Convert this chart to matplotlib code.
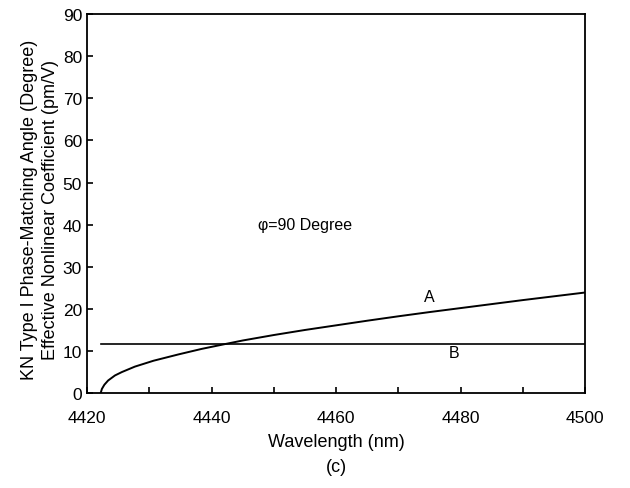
import numpy as np
import matplotlib.pyplot as plt
from matplotlib.ticker import MultipleLocator

plt.rcParams['font.family'] = ['Liberation Sans', 'DejaVu Sans']

# curve A: phase-matching angle (degree)
wl_a = [4422.2, 4422.4, 4422.8, 4423.4, 4424.5, 4425.6, 4427.7, 4430.7, 4434.7, 4438.4,
        4442, 4445, 4450, 4455, 4460, 4465, 4470, 4475, 4480, 4485, 4490, 4495, 4500]
ang_a = [0.0, 1.0, 2.0, 3.0, 4.2, 5.0, 6.3, 7.7, 9.2, 10.5,
         11.6, 12.5, 13.8, 15.0, 16.1, 17.2, 18.25, 19.25, 20.2, 21.15, 22.1, 23.0, 23.9]

# curve B: effective nonlinear coefficient (pm/V)
wl_b = [4422.2, 4500]
deff_b = [11.6, 11.6]

fig = plt.figure(figsize=(6.3, 4.89), dpi=100)
ax = fig.add_axes([0.138, 0.194, 0.791, 0.775])

ax.plot(wl_a, ang_a, color='black', lw=1.4)
ax.plot(wl_b, deff_b, color='black', lw=1.2)

ax.set_xlim(4420, 4500)
ax.set_ylim(0, 90)
ax.xaxis.set_major_locator(MultipleLocator(20))
ax.xaxis.set_minor_locator(MultipleLocator(10))
ax.yaxis.set_major_locator(MultipleLocator(10))
ax.tick_params(which='both', direction='in', labelsize=12.5, color='black')
ax.tick_params(which='major', length=4, width=1.2)
ax.tick_params(which='minor', length=4, width=1.2)
ax.tick_params(axis='x', pad=12)
for s in ax.spines.values():
    s.set_linewidth(1.3)

ax.text(4447.5, 40, 'φ=90 Degree', fontsize=11.5, va='center', ha='left')
ax.text(4475, 23, 'A', fontsize=11.5, ha='center', va='center')
ax.text(4479, 9.6, 'B', fontsize=11.5, ha='center', va='center')

ax.set_xlabel('Wavelength (nm)', fontsize=13, labelpad=6)
ax.set_ylabel('KN Type I Phase-Matching Angle (Degree)\nEffective Nonlinear Coefficient (pm/V)',
              fontsize=13, linespacing=1.3)
ax.yaxis.set_label_coords(-0.056, 0.485)
fig.text(0.534, 0.043, '(c)', fontsize=13, ha='center', va='center')

plt.savefig('out.png', dpi=100)
